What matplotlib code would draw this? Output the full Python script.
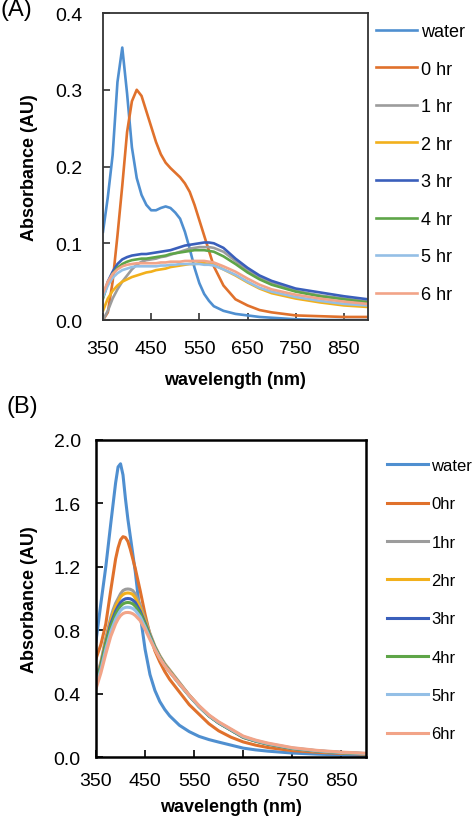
import numpy as np
import matplotlib
matplotlib.use("Agg")
import matplotlib.pyplot as plt

plt.rcParams['font.family'] = ['Liberation Sans', 'DejaVu Sans']

# ---- data ----
labels_a = ['water', '0 hr', '1 hr', '2 hr', '3 hr', '4 hr', '5 hr', '6 hr']
labels_b = ['water', '0hr', '1hr', '2hr', '3hr', '4hr', '5hr', '6hr']
colors = ['#4f8fd0', '#e0712c', '#9c9c9c', '#f2b01c', '#3a5fbb', '#5ea548', '#94bfe6', '#f2a488']

# panel A: wavelength (nm) and absorbance (AU)
wl_a = [350, 360, 370, 380, 390, 400, 410, 420, 430, 440, 450, 460, 470, 480, 490, 500,
        510, 520, 530, 540, 550, 560, 570, 580, 600, 625, 650, 675, 700, 750, 800, 850, 900]
water_a = [0.115, 0.16, 0.215, 0.31, 0.355, 0.295, 0.225, 0.185, 0.163, 0.15, 0.143, 0.143,
           0.146, 0.148, 0.146, 0.14, 0.132, 0.115, 0.093, 0.068, 0.048, 0.034, 0.025, 0.018,
           0.012, 0.008, 0.006, 0.004, 0.003, 0.001, 0.0, 0.0, 0.0]
hr0_a = [0.0, 0.01, 0.05, 0.11, 0.175, 0.245, 0.285, 0.3, 0.292, 0.272, 0.252, 0.232,
         0.216, 0.205, 0.198, 0.192, 0.186, 0.178, 0.167, 0.15, 0.13, 0.11, 0.09, 0.07,
         0.045, 0.027, 0.019, 0.013, 0.01, 0.006, 0.005, 0.004, 0.004]
hr1_a = [0.0, 0.012, 0.028, 0.04, 0.05, 0.058, 0.066, 0.072, 0.076, 0.078, 0.079, 0.08,
         0.082, 0.083, 0.085, 0.087, 0.089, 0.091, 0.093, 0.094, 0.095, 0.095, 0.095, 0.094,
         0.089, 0.077, 0.065, 0.055, 0.048, 0.038, 0.032, 0.028, 0.024]
hr2_a = [0.012, 0.028, 0.038, 0.045, 0.05, 0.053, 0.056, 0.058, 0.06, 0.062, 0.063, 0.065,
         0.066, 0.067, 0.069, 0.07, 0.071, 0.072, 0.073, 0.073, 0.074, 0.074, 0.073, 0.072,
         0.066, 0.058, 0.049, 0.041, 0.035, 0.028, 0.023, 0.019, 0.017]
hr3_a = [0.03, 0.05, 0.063, 0.073, 0.079, 0.082, 0.084, 0.085, 0.086, 0.086, 0.087, 0.088,
         0.089, 0.09, 0.091, 0.093, 0.095, 0.097, 0.098, 0.099, 0.1, 0.101, 0.101, 0.1,
         0.094, 0.08, 0.068, 0.058, 0.051, 0.041, 0.036, 0.031, 0.027]
hr4_a = [0.028, 0.048, 0.06, 0.068, 0.073, 0.076, 0.078, 0.079, 0.08, 0.08, 0.081, 0.082,
         0.083, 0.084, 0.086, 0.087, 0.088, 0.089, 0.09, 0.091, 0.091, 0.091, 0.09, 0.089,
         0.083, 0.073, 0.062, 0.053, 0.046, 0.037, 0.031, 0.027, 0.023]
hr5_a = [0.03, 0.045, 0.055, 0.061, 0.065, 0.067, 0.069, 0.07, 0.07, 0.07, 0.07, 0.07,
         0.071, 0.071, 0.072, 0.072, 0.073, 0.073, 0.073, 0.073, 0.073, 0.072, 0.072, 0.071,
         0.066, 0.059, 0.05, 0.042, 0.037, 0.03, 0.025, 0.021, 0.019]
hr6_a = [0.035, 0.05, 0.06, 0.066, 0.07, 0.072, 0.073, 0.074, 0.074, 0.074, 0.074, 0.074,
         0.075, 0.075, 0.076, 0.076, 0.076, 0.077, 0.077, 0.077, 0.077, 0.077, 0.076, 0.075,
         0.07, 0.063, 0.054, 0.046, 0.04, 0.033, 0.028, 0.024, 0.021]

# panel B
wl_b = [350, 360, 370, 380, 385, 390, 395, 400, 405, 410, 415, 420, 425, 430, 440, 450, 460,
        470, 480, 490, 500, 520, 540, 560, 580, 600, 625, 650, 675, 700, 750, 800, 850, 900]
water_b = [0.73, 0.97, 1.2, 1.47, 1.6, 1.73, 1.83, 1.85, 1.78, 1.63, 1.5, 1.39, 1.28, 1.17,
           0.9, 0.68, 0.52, 0.42, 0.35, 0.3, 0.26, 0.2, 0.16, 0.13, 0.11, 0.094, 0.075,
           0.056, 0.045, 0.037, 0.025, 0.018, 0.013, 0.01]
hr0_b = [0.62, 0.71, 0.84, 1.05, 1.15, 1.25, 1.32, 1.37, 1.39, 1.385, 1.36, 1.31, 1.25, 1.19,
         1.05, 0.9, 0.77, 0.67, 0.6, 0.54, 0.49, 0.41, 0.33, 0.27, 0.21, 0.165, 0.125,
         0.095, 0.075, 0.06, 0.04, 0.03, 0.023, 0.018]
hr1_b = [0.49, 0.6, 0.75, 0.88, 0.93, 0.97, 1.0, 1.03, 1.05, 1.058, 1.06, 1.058, 1.05, 1.03,
         0.96, 0.87, 0.78, 0.7, 0.64, 0.59, 0.55, 0.47, 0.39, 0.32, 0.26, 0.215, 0.17,
         0.123, 0.1, 0.08, 0.052, 0.036, 0.027, 0.02]
hr2_b = [0.48, 0.59, 0.74, 0.86, 0.91, 0.95, 0.98, 1.01, 1.025, 1.033, 1.035, 1.033, 1.025,
         1.005, 0.94, 0.86, 0.77, 0.695, 0.635, 0.585, 0.545, 0.465, 0.39, 0.32, 0.26, 0.215,
         0.17, 0.124, 0.1, 0.081, 0.053, 0.037, 0.027, 0.02]
hr3_b = [0.47, 0.58, 0.72, 0.84, 0.88, 0.92, 0.95, 0.975, 0.99, 0.998, 1.0, 0.998, 0.99,
         0.975, 0.92, 0.845, 0.765, 0.69, 0.63, 0.58, 0.54, 0.462, 0.387, 0.318, 0.26, 0.215,
         0.17, 0.125, 0.101, 0.082, 0.054, 0.038, 0.028, 0.021]
hr4_b = [0.47, 0.57, 0.71, 0.82, 0.86, 0.9, 0.93, 0.952, 0.966, 0.973, 0.975, 0.973, 0.966,
         0.952, 0.905, 0.835, 0.76, 0.688, 0.628, 0.578, 0.538, 0.46, 0.386, 0.318, 0.26,
         0.216, 0.171, 0.126, 0.102, 0.083, 0.055, 0.039, 0.028, 0.021]
hr5_b = [0.45, 0.55, 0.68, 0.79, 0.83, 0.87, 0.9, 0.925, 0.938, 0.944, 0.945, 0.943, 0.937,
         0.925, 0.885, 0.82, 0.75, 0.683, 0.625, 0.576, 0.537, 0.46, 0.387, 0.32, 0.262,
         0.218, 0.173, 0.128, 0.104, 0.085, 0.057, 0.04, 0.029, 0.022]
hr6_b = [0.43, 0.53, 0.65, 0.76, 0.8, 0.84, 0.87, 0.892, 0.905, 0.911, 0.912, 0.91, 0.904,
         0.893, 0.86, 0.805, 0.74, 0.678, 0.622, 0.575, 0.537, 0.462, 0.39, 0.324, 0.266,
         0.222, 0.177, 0.132, 0.107, 0.088, 0.059, 0.042, 0.031, 0.024]

series_a = [water_a, hr0_a, hr1_a, hr2_a, hr3_a, hr4_a, hr5_a, hr6_a]
series_b = [water_b, hr0_b, hr1_b, hr2_b, hr3_b, hr4_b, hr5_b, hr6_b]

fig = plt.figure(figsize=(4.74, 8.20), dpi=100)
ax_a = fig.add_axes([0.2173, 0.6085, 0.559, 0.3744])
ax_b = fig.add_axes([0.2025, 0.0756, 0.5696, 0.3866])


def style_axes(ax, ymax, ystep, spine_col, spine_w, pad):
    ax.set_xlim(350, 900)
    ax.set_ylim(0, ymax)
    ax.set_xticks(np.arange(350, 900, 100))
    ax.set_yticks(np.arange(0, ymax + ystep / 2, ystep))
    ax.yaxis.set_major_formatter(matplotlib.ticker.FormatStrFormatter('%.1f'))
    ax.tick_params(direction='in', length=5, width=1.2, labelsize=14, pad=pad,
                   color=spine_col)
    for s in ax.spines.values():
        s.set_color(spine_col)
        s.set_linewidth(spine_w)
    ax.set_xlabel('wavelength (nm)', fontsize=13, fontweight='bold')
    ax.set_ylabel('Absorbance (AU)', fontsize=13, fontweight='bold')


for ys, lab, c in zip(series_a, labels_a, colors):
    ax_a.plot(wl_a, ys, color=c, lw=1.9, label=lab)
for ys, lab, c in zip(series_b, labels_b, colors):
    ax_b.plot(wl_b, ys, color=c, lw=2.2, label=lab)

style_axes(ax_a, 0.4, 0.1, '#333333', 1.3, 14.5)
style_axes(ax_b, 2.0, 0.4, 'black', 1.8, 11)
ax_a.xaxis.set_label_coords(0.5, -0.165)
ax_a.yaxis.set_label_coords(-0.245, 0.5)
ax_b.xaxis.set_label_coords(0.5, -0.128)
ax_b.yaxis.set_label_coords(-0.215, 0.5)

ax_a.legend(loc='upper left', bbox_to_anchor=(376 / 474, 1 - 24 / 820),
            bbox_transform=fig.transFigure, frameon=False, fontsize=13,
            handlelength=2.27, handletextpad=0.22, labelspacing=1.14,
            borderpad=0, borderaxespad=0)
ax_b.legend(loc='upper left', bbox_to_anchor=(387 / 474, 1 - 459 / 820),
            bbox_transform=fig.transFigure, frameon=False, fontsize=12,
            handlelength=2.45, handletextpad=0.22, labelspacing=1.4,
            borderpad=0, borderaxespad=0)

fig.text(0.0, 1 - 10 / 820, '(A)', fontsize=17, va='center', ha='left')
fig.text(7 / 474, 1 - 407 / 820, '(B)', fontsize=17, va='center', ha='left')

fig.savefig('out.png', dpi=100)
